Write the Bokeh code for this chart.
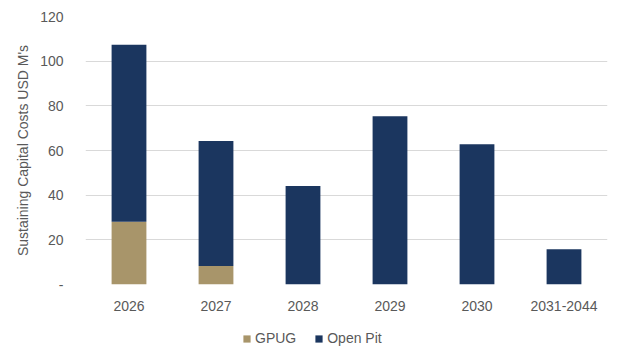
from bokeh.plotting import figure
from bokeh.layouts import column
from bokeh.models import FactorRange, Range1d, FixedTicker, ColumnDataSource, Legend, LegendItem
from bokeh.embed import file_html
from bokeh.resources import INLINE

categories = ["2026", "2027", "2028", "2029", "2030", "2031-2044"]
gpug = [28.1, 8.3, 0, 0, 0, 0]
open_pit = [79.3, 55.9, 44.1, 75.3, 62.8, 15.8]
y_ticks = [0, 20, 40, 60, 80, 100, 120]
series = ["GPUG", "Open Pit"]
colors = ["#A8956A", "#1B365F"]

FONT = "Liberation Sans"
TXT = "#595959"

source = ColumnDataSource(dict(cat=categories, GPUG=gpug, OpenPit=open_pit))

p = figure(width=621, height=318, x_range=FactorRange(*categories), y_range=Range1d(0, 120),
           output_backend="svg", toolbar_location=None,
           min_border_left=85, min_border_right=14, min_border_top=16, min_border_bottom=34)

rs = p.vbar_stack(["GPUG", "OpenPit"], x="cat", width=0.4, source=source,
                  color=colors, line_color=None)

p.outline_line_color = None
p.xgrid.grid_line_color = None
p.ygrid.grid_line_color = "#D9D9D9"
p.ygrid.grid_line_width = 1

p.yaxis.ticker = FixedTicker(ticks=y_ticks)
p.yaxis.major_label_overrides = {0: "-"}
p.yaxis.axis_label = "Sustaining Capital Costs USD M's"
for ax in (p.xaxis[0], p.yaxis[0]):
    ax.axis_line_color = None
    ax.major_tick_line_color = None
    ax.minor_tick_line_color = None
    ax.major_label_text_font = FONT
    ax.major_label_text_font_size = "14px"
    ax.major_label_text_color = TXT
p.yaxis.major_label_standoff = 16
p.xaxis.major_label_standoff = 10
p.yaxis.axis_label_text_font = FONT
p.yaxis.axis_label_text_font_size = "14px"
p.yaxis.axis_label_text_font_style = "normal"
p.yaxis.axis_label_text_color = TXT
p.yaxis.axis_label_standoff = 6

# legend strip below the chart
pl = figure(width=621, height=36, x_range=FactorRange(*categories), y_range=Range1d(1000, 1001),
            output_backend="svg", toolbar_location=None, x_axis_type=None, y_axis_type=None,
            min_border_left=0, min_border_right=0, min_border_top=0, min_border_bottom=0)
pl.outline_line_color = None
pl.grid.visible = False
rl = pl.vbar_stack(["GPUG", "OpenPit"], x="cat", width=0.4, source=source,
                   color=colors, line_color=None)

leg = Legend(items=[LegendItem(label=s, renderers=[r]) for s, r in zip(series, rl)],
             orientation="horizontal", location=(157, 8))
leg.label_text_font = FONT
leg.label_text_font_size = "14px"
leg.label_text_color = TXT
leg.glyph_width = 9
leg.glyph_height = 9
leg.label_height = 16
leg.label_standoff = 4
leg.spacing = 18
leg.border_line_color = None
leg.background_fill_alpha = 0
leg.padding = 2
leg.margin = 0
pl.add_layout(leg, "center")

layout = column(p, pl)
open("out.html", "w").write(file_html(layout, INLINE))
